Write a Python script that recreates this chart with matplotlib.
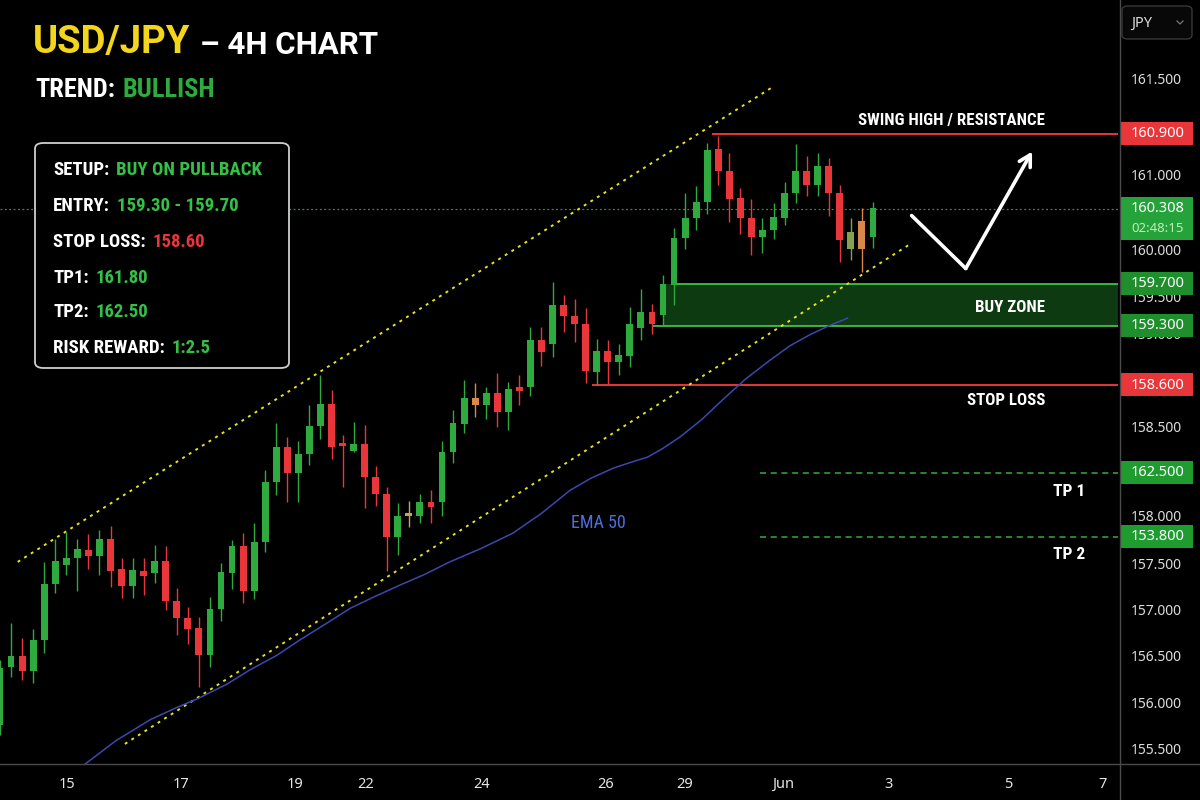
import numpy as np
import matplotlib
matplotlib.use('Agg')
import matplotlib.pyplot as plt
import matplotlib.transforms as mtransforms
from matplotlib import font_manager
from matplotlib.patches import Rectangle, FancyBboxPatch
from matplotlib.lines import Line2D

# 4H candles, oldest first
opens = [155.61, 156.14, 156.24, 156.10, 156.38, 156.89, 157.06, 157.13, 157.20, 157.14,
         157.30, 157.03, 156.87, 157.01, 156.99, 157.10, 156.74, 156.58, 156.49, 156.25,
         156.66, 156.99, 157.23, 156.83, 157.27, 157.81, 158.13, 157.90, 158.07, 158.32,
         158.52, 158.16, 158.10, 158.16, 157.86, 157.71, 157.32, 157.52, 157.51, 157.63,
         157.63, 158.09, 158.34, 158.58, 158.51, 158.62, 158.45, 158.68, 158.68, 159.10,
         159.07, 159.42, 159.32, 159.25, 158.81, 159.00, 158.90, 158.96, 159.21, 159.36,
         159.33, 159.60, 160.03, 160.21, 160.35, 160.83, 160.63, 160.39, 160.21, 160.04,
         160.10, 160.21, 160.43, 160.63, 160.51, 160.68, 160.43, 159.93, 160.18, 160.04]
highs = [156.20, 156.54, 156.40, 156.48, 157.09, 157.30, 157.36, 157.30, 157.34, 157.38,
         157.42, 157.13, 157.13, 157.13, 157.24, 157.23, 156.85, 156.68, 156.59, 156.77,
         157.08, 157.29, 157.35, 157.44, 157.92, 158.35, 158.22, 158.19, 158.51, 158.78,
         158.65, 158.24, 158.36, 158.33, 157.96, 157.77, 157.62, 157.64, 157.71, 157.74,
         158.19, 158.47, 158.74, 158.71, 158.68, 158.80, 158.72, 158.78, 159.22, 159.22,
         159.63, 159.51, 159.47, 159.39, 159.11, 159.10, 159.07, 159.40, 159.56, 159.43,
         159.69, 160.12, 160.43, 160.50, 160.89, 160.95, 160.80, 160.48, 160.38, 160.21,
         160.34, 160.53, 160.88, 160.77, 160.80, 160.75, 160.51, 160.21, 160.30, 160.35]
lows = [155.52, 156.05, 156.02, 155.99, 156.26, 156.81, 156.97, 156.83, 157.03, 156.97,
        156.86, 156.76, 156.76, 156.79, 156.90, 156.65, 156.43, 156.35, 155.96, 156.14,
        156.55, 156.84, 156.72, 156.75, 157.18, 157.70, 157.63, 157.63, 157.97, 158.20,
        158.02, 157.77, 158.09, 157.58, 157.60, 157.01, 157.15, 157.41, 157.44, 157.44,
        157.51, 157.99, 158.26, 158.40, 158.39, 158.31, 158.29, 158.51, 158.59, 158.87,
        158.95, 159.17, 159.08, 158.71, 158.69, 158.69, 158.78, 158.86, 159.10, 159.16,
        159.24, 159.42, 159.93, 160.10, 160.24, 160.51, 160.17, 160.06, 159.87, 159.89,
        160.02, 160.14, 160.34, 160.41, 160.41, 160.23, 159.81, 159.83, 159.72, 159.94]
closes = [156.13, 156.24, 156.10, 156.38, 156.89, 157.10, 157.13, 157.21, 157.14, 157.30,
          157.01, 156.87, 157.02, 156.96, 157.10, 156.74, 156.58, 156.48, 156.25, 156.66,
          157.00, 157.23, 156.83, 157.27, 157.81, 158.13, 157.90, 158.07, 158.32, 158.52,
          158.13, 158.14, 158.16, 157.86, 157.71, 157.32, 157.51, 157.51, 157.63, 157.59,
          158.09, 158.35, 158.58, 158.51, 158.62, 158.45, 158.66, 158.64, 159.10, 158.99,
          159.42, 159.32, 159.25, 158.82, 159.00, 158.90, 158.97, 159.25, 159.36, 159.25,
          159.61, 160.03, 160.21, 160.35, 160.82, 160.63, 160.38, 160.21, 160.04, 160.10,
          160.22, 160.43, 160.63, 160.51, 160.68, 160.43, 160.01, 160.08, 159.93, 160.30]

# EMA 50 (candle index, price)
ema_idx = [7.6, 10.5, 13.6, 16.0, 18.1, 20.5, 22.6, 25.0, 27.1, 29.5, 31.7, 34.0, 36.2, 38.5,
           40.7, 43.5, 46.4, 49.0, 51.6, 53.5, 55.5, 57.0, 58.6, 60.0, 61.5, 63.5, 65.4, 67.5,
           69.7, 71.5, 73.3, 75.0, 76.7]
ema_val = [155.25, 155.47, 155.66, 155.77, 155.86, 155.98, 156.11, 156.24, 156.38, 156.53,
           156.67, 156.78, 156.88, 156.98, 157.09, 157.21, 157.35, 157.53, 157.74, 157.85,
           157.94, 157.99, 158.04, 158.12, 158.22, 158.38, 158.56, 158.75, 158.92, 159.05,
           159.15, 159.23, 159.30]

# channel (start, end)
upper_idx = [1.6, 70.0]
upper_val = [157.09, 161.40]
lower_idx = [11.3, 82.5]
lower_val = [155.44, 159.98]

# projected path
proj_idx = [82.5, 87.4, 93.4]
proj_val = [160.23, 159.75, 160.81]

# levels: where they sit on the chart and their price tags
level_tags = ['160.900', '160.308', '159.700', '159.300', '158.600', '162.500', '153.800']
level_pos = [160.97, 160.29, 159.61, 159.23, 158.69, 157.90, 157.32]
countdown = '02:48:15'

price_tick_pos = [161.47, 161.03, 160.60, 159.92, 159.50, 159.16, 158.32, 157.51, 157.08,
                  156.66, 156.24, 155.82, 155.40]
price_tick_labels = ['161.500', '161.000', '161.000', '160.000', '159.500', '159.000', '158.500',
                     '158.000', '157.500', '157.000', '156.500', '156.000', '155.500']

date_pos = [6.06, 16.4, 26.7, 33.1, 43.6, 54.8, 62.0, 70.9, 80.4, 91.2, 99.8]
date_labels = ['15', '17', '19', '22', '24', '26', '29', 'Jun', '3', '5', '7']

setup_rows = [('SETUP:', 'BUY ON PULLBACK'), ('ENTRY:', '159.30 - 159.70'),
              ('STOP LOSS:', '158.60'), ('TP1:', '161.80'), ('TP2:', '162.50'),
              ('RISK REWARD:', '1:2.5')]

W, H = 1200, 800
GREEN = '#2eaa3e'
RED = '#e8363a'

names = {f.name for f in font_manager.fontManager.ttflist}
font = next((f for f in ['Roboto Condensed', 'Liberation Sans Narrow', 'Roboto', 'DejaVu Sans'] if f in names))
head = 'Roboto' if 'Roboto' in names else font
plain = 'Noto Sans' if 'Noto Sans' in names else 'DejaVu Sans'

fig = plt.figure(figsize=(12, 8), dpi=100, facecolor='black')
ax = fig.add_axes([0, 36 / H, 1118 / W, 764 / H])
ax.set_facecolor('black')
xmax = 1118 / 11.05
ax.set_xlim(0, xmax)
ax.set_ylim(155.258, 162.184)
for s in ax.spines.values():
    s.set_visible(False)

# buy zone
ax.fill_between([60.0, xmax], level_pos[3], level_pos[2], color='#0d3a11', zorder=1, lw=0)
ax.hlines(level_pos[2], 60.9, xmax, color='#45cf4a', lw=1.2, zorder=2)
ax.hlines(level_pos[3], 59.0, xmax, color='#45cf4a', lw=1.2, zorder=2)
# resistance / stop
ax.hlines(level_pos[0], 64.4, xmax, color='#e53935', lw=1.4, zorder=2)
ax.hlines(level_pos[4], 53.6, xmax, color='#e53935', lw=1.4, zorder=2)
# targets
for y in level_pos[5:]:
    ax.hlines(y, 68.8, xmax, color='#2fae3c', lw=1.1, linestyles=(0, (4, 3)), zorder=2)
# current price
ax.axhline(level_pos[1], color='#3c8a4a', lw=0.9, ls=(0, (1.5, 2)), zorder=1)

# channel + EMA
ax.plot(upper_idx, upper_val, color='#e8e41c', lw=1.4, ls=(0, (1.5, 2.5)), zorder=2)
ax.plot(lower_idx, lower_val, color='#e8e41c', lw=1.4, ls=(0, (1.5, 2.5)), zorder=2)
ax.plot(ema_idx, ema_val, color='#3c48b0', lw=1.1, zorder=2)

# candles
o, h, l, c = map(np.array, (opens, highs, lows, closes))
idx = np.arange(len(o))
cols = [GREEN if cc >= oo else RED for oo, cc in zip(o, c)]
muted = {37: '#c9a35a', 43: '#d98a48', 77: '#86a050', 78: '#d9874a'}
for k, v in muted.items():
    cols[k] = v
ax.vlines(idx, l, h, colors=cols, lw=1.0, zorder=3)
body = np.maximum(np.abs(c - o), 0.025)
ax.bar(idx, body, bottom=np.minimum(o, c), width=0.62, color=cols, zorder=4, lw=0)

# projection arrow
ax.plot(proj_idx[:2], proj_val[:2], color='white', lw=2.6, solid_capstyle='round', zorder=5)
ax.annotate('', xy=(proj_idx[2], proj_val[2]), xytext=(proj_idx[1], proj_val[1]),
            arrowprops=dict(arrowstyle='->,head_length=0.8,head_width=0.45', color='white',
                            lw=2.6, shrinkA=0, shrinkB=0), zorder=5)

# axes ticks
ax.yaxis.tick_right()
ax.set_yticks(price_tick_pos, price_tick_labels)
ax.tick_params(axis='y', length=0, pad=9, labelsize=10, labelcolor='#dcdcdc')
ax.set_xticks(date_pos, date_labels)
ax.tick_params(axis='x', length=0, pad=9, labelsize=10.5, labelcolor='#e6e6e6')
for t in ax.get_xticklabels() + ax.get_yticklabels():
    t.set_family(plain)

# price tags on the right
trans = mtransforms.blended_transform_factory(fig.transFigure, ax.transData)
ppu = 764 / (162.184 - 155.258)
tag_cols = [RED, '#26a23a', '#1f8f2e', '#1f8f2e', RED, '#1f9c30', '#1f9c30']
for tag, y, col in zip(level_tags, level_pos, tag_cols):
    top, bot = 12, 11
    if tag == level_tags[1]:
        bot = 31
    ax.add_patch(Rectangle((1120 / W, y - bot / ppu), 73 / W, (top + bot) / ppu, transform=trans,
                           fc=col, ec='none', zorder=10, clip_on=False))
    ax.text(1131 / W, y, tag, transform=trans, va='center', ha='left', color='white',
            fontsize=10.5, family=plain, zorder=11, clip_on=False)
ax.text(1131 / W, level_pos[1] - 20 / ppu, countdown, transform=trans, va='center', ha='left',
        color='#b8f0b8', fontsize=9.5, family=plain, zorder=11, clip_on=False)

# frame lines
fig.add_artist(Line2D([1119.5 / W, 1119.5 / W], [0, 1], color='#4a4a4a', lw=1))
fig.add_artist(Line2D([0, 1], [36 / H, 36 / H], color='#4a4a4a', lw=1))

# JPY selector
fig.add_artist(FancyBboxPatch((1122 / W, 1 - 39 / H), 70 / W, 33 / H,
                              boxstyle='round,pad=0,rounding_size=0.005', transform=fig.transFigure,
                              fc='#080808', ec='#383838', lw=1))
fig.text(1131 / W, 1 - 23 / H, 'JPY', color='#dddddd', fontsize=10.5, family=plain, va='center')
fig.add_artist(Line2D([1177 / W, 1180 / W, 1183 / W], [1 - 21 / H, 1 - 24 / H, 1 - 21 / H],
                      color='#777777', lw=0.9))

r = fig.canvas.get_renderer()


def put(x, y, s, family=font, **kw):
    return fig.text(x / W, 1 - y / H, s, va='baseline', family=family, **kw)


def pair(x, y, a, b, ca, cb, size, gap):
    t = put(x, y, a, color=ca, fontsize=size, weight='bold')
    bb = t.get_window_extent(renderer=r)
    put(bb.x1 + gap, y, b, color=cb, fontsize=size, weight='bold')


# title
t = put(33, 53, 'USD/JPY', family=head, color='#f3d51b', fontsize=27.5, weight='bold')
bb = t.get_window_extent(renderer=r)
put(bb.x1 + 10, 54, '– 4H CHART', family=head, color='white', fontsize=22.5, weight='bold')
pair(35, 97, 'TREND:', 'BULLISH', 'white', GREEN, 19, 8)

# setup box
fig.add_artist(FancyBboxPatch((35 / W, 1 - 368 / H), 254 / W, 225 / H,
                              boxstyle='round,pad=0,rounding_size=0.007', transform=fig.transFigure,
                              fc='black', ec='#cfcfcf', lw=1.3))
row_base = [175, 211, 247, 283, 317, 353]
for (a, b), y in zip(setup_rows, row_base):
    pair(53, y, a, b, 'white', RED if a.startswith('STOP') else '#35c047', 13.5, 7)

# chart notes
put(1045, 125, 'SWING HIGH / RESISTANCE', color='white', fontsize=12.2, weight='bold', ha='right')
put(1045, 312, 'BUY ZONE', color='white', fontsize=12.2, weight='bold', ha='right')
put(1045, 405, 'STOP LOSS', color='white', fontsize=12.2, weight='bold', ha='right')
put(1085, 496, 'TP 1', color='white', fontsize=12.5, weight='bold', ha='right')
put(1085, 559, 'TP 2', color='white', fontsize=12.5, weight='bold', ha='right')
put(571, 528, 'EMA 50', color='#4b6fe0', fontsize=13)

fig.savefig('out.png', dpi=100, facecolor='black')
